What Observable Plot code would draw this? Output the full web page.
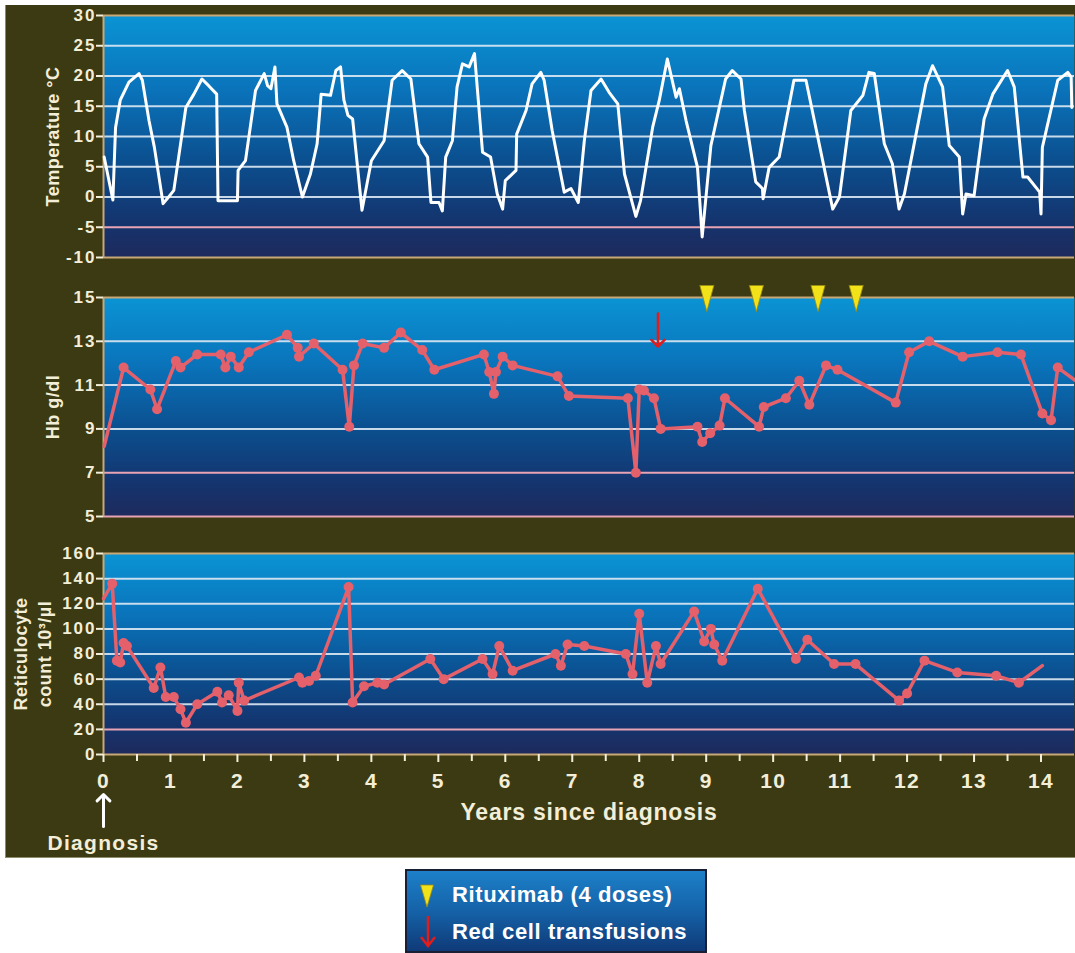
<!DOCTYPE html>
<html>
<head>
<meta charset="utf-8">
<script src="https://cdn.jsdelivr.net/npm/d3@7"></script>
<script src="https://cdn.jsdelivr.net/npm/@observablehq/plot@0.6"></script>
<style>
  html, body { margin: 0; padding: 0; background: #ffffff; }
  body { position: relative; width: 1075px; height: 953px; overflow: hidden;
         font-family: "Liberation Sans", Arial, Helvetica, sans-serif; }
  #backdrop { position: absolute; left: 5px; top: 5px; width: 1069px; height: 852px;
              background: #3c3a12; border-left: 1px solid #8e8c6c; border-bottom: 1px solid #8e8c6c; }
  .panel { position: absolute; left: 0; }
  #legend { position: absolute; left: 405px; top: 869px; width: 298px; height: 80px;
            border: 2px solid #1a1f33;
            background: linear-gradient(to bottom, #1c80c8 0%, #1562a8 50%, #0f3a78 100%); }
  #legend svg, #legend span { position: absolute; }
  #legend span { left: 45px; color: #ffffff; font-weight: bold; font-size: 22px;
                 letter-spacing: 0.6px; line-height: 26px; white-space: nowrap; }
</style>
</head>
<body>
<div id="backdrop"></div>
<div id="temp" class="panel" style="top:0px"></div>
<div id="hb" class="panel" style="top:262px"></div>
<div id="retic" class="panel" style="top:524px"></div>
<div id="legend">
  <svg style="left:12px;top:12px" width="16" height="26">
    <polygon points="1.5,2 14.5,2 8,24" fill="#f2e21a" stroke="#9c8c0c" stroke-width="0.8"/>
  </svg>
  <span style="top:11px">Rituximab (4 doses)</span>
  <svg style="left:11px;top:44px" width="20" height="34">
    <path d="M10,1 V31 M3,22 L10,31 L17,22" stroke="#e01c1c" stroke-width="2.5" fill="none"/>
  </svg>
  <span style="top:48px">Red cell transfusions</span>
</div>
<script>
// ---- Temperature (°C) ----
const tempYears = [0.01,0.14,0.18,0.25,0.38,0.53,0.58,0.68,0.76,0.89,
  0.95,1.05,1.23,1.35,1.47,1.57,1.69,1.71,2.00,2.01,
  2.12,2.27,2.40,2.45,2.50,2.56,2.59,2.74,2.84,2.97,
  3.09,3.19,3.25,3.39,3.47,3.54,3.59,3.65,3.72,3.86,
  4.00,4.19,4.31,4.46,4.59,4.71,4.84,4.89,5.01,5.06,
  5.11,5.21,5.28,5.36,5.46,5.54,5.66,5.78,5.88,5.96,
  6.00,6.16,6.17,6.31,6.40,6.53,6.58,6.70,6.88,6.98,
  7.09,7.18,7.28,7.43,7.55,7.68,7.78,7.95,8.02,8.20,
  8.30,8.42,8.55,8.60,8.70,8.87,8.94,9.07,9.29,9.39,
  9.52,9.57,9.74,9.84,9.85,9.94,10.09,10.31,10.49,10.89,
  10.99,11.16,11.34,11.43,11.51,11.66,11.78,11.88,11.96,12.28,
  12.38,12.53,12.63,12.78,12.83,12.88,13.00,13.15,13.28,13.50,
  13.60,13.73,13.80,13.98,14.00,14.02,14.25,14.40,14.45,14.46];
const tempValues = [6.6,-0.5,11.5,16,19,20.4,19.3,12.6,8.2,-1.1,
  -0.3,1.1,14.8,17,19.5,18.4,17,-0.6,-0.6,4.4,
  6,17.6,20.4,18.4,17.9,21.5,15.4,11.5,6,0,
  3.8,8.8,17,16.8,20.9,21.5,16,13.5,12.9,-2.2,
  6,9.3,19.3,20.9,19.5,8.8,6.6,-0.9,-0.9,-2.3,
  6.6,9.3,18.2,22,21.5,23.7,7.4,6.6,0.5,-2,
  2.7,4.4,10.4,14.3,18.7,20.6,19.3,11,0.8,1.4,
  -0.9,9.3,17.6,19.5,17.3,15.4,3.8,-3.2,-0.6,11.5,
  16,22.8,16.5,17.9,12.6,4.9,-6.6,8.5,19.5,20.9,
  19.5,14.3,2.5,1.4,-0.3,4.9,6.6,19.3,19.3,-2,
  0,14.3,16.8,20.6,20.4,8.8,5.5,-2,0.5,18.7,
  21.7,18.2,8.5,6.6,-2.8,0.5,0.2,12.9,17,20.9,
  18.2,3.3,3.3,0.8,-2.8,8.2,19.3,20.6,19.8,14.8];

// ---- Haemoglobin (g/dl) ----
const hbYears = [0.01,0.30,0.70,0.80,1.08,1.15,1.40,1.75,1.82,1.90,
  2.02,2.17,2.74,2.90,2.92,3.14,3.57,3.67,3.74,3.87,
  4.19,4.44,4.76,4.94,5.68,5.76,5.83,5.86,5.96,6.11,
  6.78,6.95,7.83,7.95,8.00,8.07,8.22,8.32,8.87,8.94,
  9.06,9.20,9.28,9.79,9.86,10.19,10.39,10.54,10.79,10.96,
  11.83,12.03,12.33,12.83,13.35,13.70,14.02,14.15,14.25,14.52];
const hbValues = [8.2,11.8,10.8,9.9,12.1,11.8,12.4,12.4,11.8,12.3,
  11.8,12.5,13.3,12.7,12.3,12.9,11.7,9.1,11.9,12.9,
  12.7,13.4,12.6,11.7,12.4,11.6,10.6,11.6,12.3,11.9,
  11.4,10.5,10.4,7.0,10.8,10.75,10.4,9.0,9.1,8.4,
  8.8,9.15,10.4,9.1,10.0,10.4,11.2,10.1,11.9,11.7,
  10.2,12.5,13.0,12.3,12.5,12.4,9.7,9.4,11.8,11.2];

// ---- Reticulocyte count (10³/µl) ----
const reticYears = [0.00,0.13,0.20,0.25,0.30,0.35,0.75,0.85,0.93,1.05,
  1.15,1.23,1.40,1.70,1.77,1.87,2.00,2.02,2.10,2.92,
  2.97,3.07,3.17,3.66,3.72,3.89,4.09,4.19,4.88,5.08,
  5.66,5.81,5.91,6.11,6.75,6.83,6.93,7.18,7.80,7.90,
  8.00,8.12,8.25,8.32,8.82,8.97,9.07,9.12,9.24,9.77,
  10.34,10.51,10.91,11.23,11.88,12.00,12.26,12.75,13.33,13.67,
  14.02];
const reticValues = [124,136,74.7,73.3,88.8,86.3,52.9,69.3,45.7,45.7,
  36,25.3,40,50,41.4,47.1,34.7,57.1,42.9,61.3,
  57.1,58.6,62.7,133.3,41.4,54.3,57.1,55.7,76,60,
  76,64,86.3,66.7,80,70.7,87.5,86.3,80,64,
  112,57.1,86.3,72,113.9,90,100,87.5,74.7,132,
  76,91.3,72,72,42.9,48.6,74.7,65.3,62.7,57.1,
  70.7];

// ---- Events ----
const rituximabYears = [9.01, 9.75, 10.67, 11.24];
const transfusionYears = [8.28];
const diagnosisYear = 0;

// ---- Axes ----
const yearDomain = [0, 14.5];
const yearTicks = [0,1,2,3,4,5,6,7,8,9,10,11,12,13,14];
const halfYearTicks = [0.5,1.5,2.5,3.5,4.5,5.5,6.5,7.5,8.5,9.5,10.5,11.5,12.5,13.5];
const tempTicks = [-10,-5,0,5,10,15,20,25,30];
const hbTicks = [5,7,9,11,13,15];
const reticTicks = [0,20,40,60,80,100,120,140,160];
const tempRefLines = [-5];
const hbRefLines = [5, 7];
const reticRefLines = [20];

const tempTitle = "Temperature °C";
const hbTitle = "Hb g/dl";
const reticTitle = "Reticulocyte\ncount 10³/µl";
const xTitle = "Years since diagnosis";
const diagnosisLabel = "Diagnosis";

const temperature = tempYears.map((year, i) => ({year, value: tempValues[i]}));
const hb = hbYears.map((year, i) => ({year, value: hbValues[i]}));
const retic = reticYears.map((year, i) => ({year, value: reticValues[i]}));

// ---- Styling ----
const FONT = '"Liberation Sans", Arial, Helvetica, sans-serif';
const CREAM = "#f3eed8";
const GRID = "#dde9f4";
const PINK = "#e8a3b4";
const EDGE = "#c9a877";
const SALMON = "#e4606b";
const YELLOW = "#f2e21a";
const RED = "#e01c1c";
const gradientStops = [[0, "#0a94d4"], [0.3, "#0a74bb"], [0.6, "#0b4f8f"], [0.85, "#14346e"], [1, "#1e2a5c"]];
// extra tracking for the bold labels, keyed by font size
const tracking = {"17": "2px", "21": "1.3px", "23": "0.8px", "18": "0.5px"};

function finish(svg, id) {
  const ns = "http://www.w3.org/2000/svg";
  const defs = document.createElementNS(ns, "defs");
  const lg = document.createElementNS(ns, "linearGradient");
  lg.setAttribute("id", id);
  lg.setAttribute("x1", "0"); lg.setAttribute("y1", "0");
  lg.setAttribute("x2", "0"); lg.setAttribute("y2", "1");
  for (const [offset, color] of gradientStops) {
    const s = document.createElementNS(ns, "stop");
    s.setAttribute("offset", offset);
    s.setAttribute("stop-color", color);
    lg.appendChild(s);
  }
  defs.appendChild(lg);
  svg.insertBefore(defs, svg.firstChild);
  svg.querySelectorAll("[font-size]").forEach(g => {
    const ls = tracking[g.getAttribute("font-size")];
    if (ls) g.style.letterSpacing = ls;
  });
  return svg;
}

// panel background: gradient fill, grid, reference lines, edges and left axis line
function backdrop(gradId, ticks, refs) {
  const ends = [ticks[0], ticks[ticks.length - 1]];
  const inner = ticks.filter(t => !refs.includes(t) && !ends.includes(t));
  return [
    Plot.frame({fill: `url(#${gradId})`, stroke: "none"}),
    Plot.ruleY(inner, {stroke: GRID, strokeWidth: 2, strokeOpacity: 0.9}),
    Plot.ruleY(ends.filter(t => !refs.includes(t)), {stroke: EDGE, strokeWidth: 2}),
    Plot.ruleY(refs, {stroke: PINK, strokeWidth: 2}),
    Plot.ruleX([diagnosisYear], {stroke: EDGE, strokeWidth: 2})
  ];
}

const yAxis = ticks => Plot.axisY({
  ticks, tickSize: 7, tickPadding: 0, tickFormat: d => String(d),
  fontSize: 17, fontWeight: "bold", strokeWidth: 2, label: null
});

const panelTitle = (title, dx) => Plot.text([title], {
  frameAnchor: "left", rotate: -90, dx, textAnchor: "middle", lineAnchor: "middle", lineHeight: 1.3,
  fontSize: 18, fontWeight: "bold", fill: CREAM
});

const common = {
  width: 1075, marginLeft: 103, marginRight: 1,
  style: {background: "transparent", color: CREAM, fontFamily: FONT, overflow: "visible"}
};

// Temperature panel
const tempPlot = Plot.plot({
  ...common, height: 262, marginTop: 15, marginBottom: 5,
  x: {domain: yearDomain, axis: null},
  y: {domain: [-10, 30], axis: null},
  marks: [
    ...backdrop("gradTemp", tempTicks, tempRefLines),
    yAxis(tempTicks),
    Plot.line(temperature, {x: "year", y: "value", stroke: "#ffffff", strokeWidth: 3, strokeLinejoin: "round"}),
    panelTitle(tempTitle, -52)
  ]
});
document.getElementById("temp").appendChild(finish(tempPlot, "gradTemp"));

// Haemoglobin panel with treatment events above it
const hbPlot = Plot.plot({
  ...common, height: 262, marginTop: 35, marginBottom: 8,
  x: {domain: yearDomain, axis: null},
  y: {domain: [5, 15], axis: null},
  marks: [
    ...backdrop("gradHb", hbTicks, hbRefLines),
    yAxis(hbTicks),
    Plot.line(hb, {x: "year", y: "value", stroke: SALMON, strokeWidth: 3.5, strokeLinejoin: "round"}),
    Plot.dot(hb.slice(1, -1), {x: "year", y: "value", r: 5, fill: SALMON}),
    Plot.vector(rituximabYears, {x: d => d, frameAnchor: "top", dy: -12, anchor: "start", rotate: 180,
      length: 26, shape: "spike", r: 7, fill: YELLOW, stroke: "#9c8c0c", strokeWidth: 0.8}),
    Plot.vector(transfusionYears, {x: d => d, frameAnchor: "top", dy: 16, anchor: "start", rotate: 180,
      length: 33, shape: "arrow", stroke: RED, strokeWidth: 2.5}),
    panelTitle(hbTitle, -52)
  ]
});
document.getElementById("hb").appendChild(finish(hbPlot, "gradHb"));

// Reticulocyte panel with the shared time axis
const reticPlot = Plot.plot({
  ...common, height: 340, marginTop: 29, marginBottom: 110,
  x: {domain: yearDomain},
  y: {domain: [0, 160], axis: null},
  marks: [
    ...backdrop("gradRetic", reticTicks, reticRefLines),
    yAxis(reticTicks),
    Plot.axisX({ticks: yearTicks, tickSize: 8, tickPadding: 11, tickFormat: d => String(d),
      fontSize: 21, fontWeight: "bold", strokeWidth: 2, label: null}),
    Plot.axisX({ticks: halfYearTicks, tickSize: 7, tickFormat: () => "", strokeWidth: 2, label: null}),
    Plot.line(retic, {x: "year", y: "value", stroke: SALMON, strokeWidth: 3.5, strokeLinejoin: "round"}),
    Plot.dot(retic.slice(1, -1), {x: "year", y: "value", r: 5, fill: SALMON}),
    Plot.text([xTitle], {frameAnchor: "bottom", dy: 49, lineAnchor: "top", textAnchor: "middle",
      fontSize: 23, fontWeight: "bold", fill: CREAM}),
    Plot.vector([diagnosisYear], {x: d => d, frameAnchor: "bottom", dy: 72, anchor: "start",
      length: 32, shape: "arrow", stroke: "#ffffff", strokeWidth: 3}),
    Plot.text([diagnosisLabel], {x: diagnosisYear, frameAnchor: "bottom", dy: 81, lineAnchor: "top",
      textAnchor: "middle", fontSize: 21, fontWeight: "bold", fill: CREAM}),
    panelTitle(reticTitle, -72)
  ]
});
document.getElementById("retic").appendChild(finish(reticPlot, "gradRetic"));
</script>
</body>
</html>
